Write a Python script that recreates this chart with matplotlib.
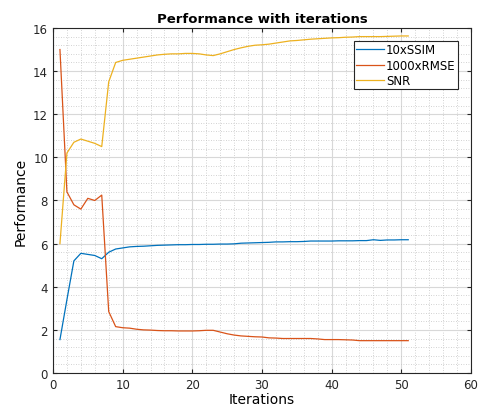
import numpy as np
import matplotlib.pyplot as plt
from matplotlib.ticker import MultipleLocator

iterations = list(range(1, 52))

ssim_10x = [1.55, 3.4, 5.2, 5.55, 5.5, 5.45, 5.3, 5.6, 5.75, 5.8,
            5.85, 5.87, 5.88, 5.9, 5.92, 5.93, 5.94, 5.95, 5.95, 5.96,
            5.96, 5.97, 5.97, 5.98, 5.98, 5.99, 6.02, 6.03, 6.04, 6.05,
            6.06, 6.08, 6.08, 6.09, 6.09, 6.1, 6.12, 6.12, 6.12, 6.12,
            6.13, 6.13, 6.13, 6.14, 6.14, 6.18, 6.15, 6.17, 6.17, 6.18,
            6.18]

rmse_1000x = [15.0, 8.4, 7.8, 7.6, 8.1, 8.0, 8.25, 2.85, 2.15, 2.1,
              2.08, 2.03, 2.0, 1.99, 1.97, 1.96, 1.96, 1.95, 1.95, 1.95,
              1.96, 1.98, 1.98, 1.9, 1.82, 1.76, 1.72, 1.7, 1.68, 1.67,
              1.63, 1.62, 1.6, 1.6, 1.6, 1.6, 1.6, 1.58, 1.55, 1.55,
              1.55, 1.54, 1.53, 1.5, 1.5, 1.5, 1.5, 1.5, 1.5, 1.5,
              1.5]

snr = [6.0, 10.2, 10.7, 10.85, 10.75, 10.65, 10.5, 13.5, 14.4, 14.5,
       14.55, 14.6, 14.65, 14.7, 14.75, 14.78, 14.8, 14.8, 14.82, 14.82,
       14.8, 14.75, 14.72, 14.8, 14.9, 15.0, 15.08, 15.15, 15.2, 15.22,
       15.25, 15.3, 15.35, 15.4, 15.42, 15.45, 15.48, 15.5, 15.52, 15.54,
       15.55, 15.57, 15.58, 15.6, 15.6, 15.6, 15.6, 15.61, 15.62, 15.63,
       15.63]

fig = plt.figure(figsize=(4.83, 4.14), dpi=100)
ax = fig.add_axes([0.1097, 0.0966, 0.8653, 0.8334])

ax.plot(iterations, ssim_10x, color="#0072BD", lw=0.9, label="10xSSIM")
ax.plot(iterations, rmse_1000x, color="#D95319", lw=0.9, label="1000xRMSE")
ax.plot(iterations, snr, color="#EDB120", lw=0.9, label="SNR")

ax.set_xlim(0, 60)
ax.set_ylim(0, 16)
ax.xaxis.set_major_locator(MultipleLocator(10))
ax.xaxis.set_minor_locator(MultipleLocator(2))
ax.yaxis.set_major_locator(MultipleLocator(2))
ax.yaxis.set_minor_locator(MultipleLocator(0.4))
ax.grid(which="major", color="#d8d8d8", lw=0.8)
ax.grid(which="minor", color="#c4c4c4", lw=0.6, linestyle=(0, (1, 2)))
ax.set_axisbelow(True)
ax.tick_params(which="both", direction="in", top=True, right=True, labelsize=8.5, colors="#262626")
ax.tick_params(which="minor", length=0)
ax.tick_params(which="major", length=3)
for s in ax.spines.values():
    s.set_color("#262626")
    s.set_linewidth(0.8)

ax.set_xlabel("Iterations", fontsize=10, labelpad=1)
ax.set_ylabel("Performance", fontsize=10, labelpad=4)
ax.set_title("Performance with iterations", fontsize=9.5, fontweight="bold", pad=4)

leg = ax.legend(loc="upper right", fontsize=8.5, fancybox=False, framealpha=1,
                edgecolor="#262626", handlelength=2.3, borderpad=0.2,
                labelspacing=0.2, handletextpad=0.2, borderaxespad=1.1)
leg.get_frame().set_linewidth(0.8)

fig.savefig("out.png", dpi=100, facecolor="white")
